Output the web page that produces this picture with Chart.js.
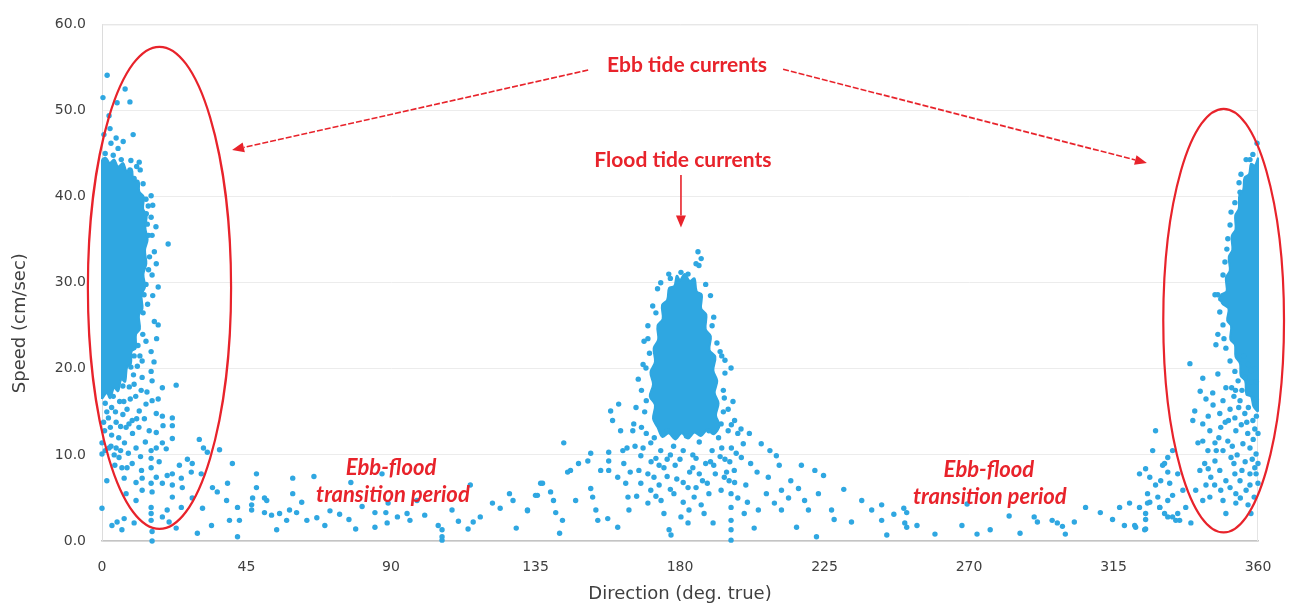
<!DOCTYPE html>
<html>
<head>
<meta charset="utf-8">
<script src="https://cdn.jsdelivr.net/npm/chart.js@4.4.0/dist/chart.umd.min.js"></script>
<style>
html, body { margin: 0; padding: 0; background: #fff; }
</style>
</head>
<body>
<canvas id="myChart" width="1294" height="608"></canvas>
<script>
// [direction deg, speed cm/s]

// outline of the solid blobs (too dense to pick single dots)
const ebbNorthCore = [[0,16.5],[1.5,17.2],[2.5,16.6],[3.8,17.8],[5,17.4],[6,18.8],[7.2,18.5],[7.8,20.2],[9,20.6],[9.2,22],[10.5,22.4],[10.6,24],[11.8,24.6],[11.5,26.2],[12.6,27],[12.3,28.6],[13.4,29.5],[12.9,31],[13.8,32.2],[13.4,33.8],[14.2,35],[13.5,36.4],[13.9,37.8],[12.8,38.6],[13,40],[11.6,40.6],[11.4,41.8],[9.8,42],[9.2,43.2],[7.6,43],[6.6,43.9],[5,43.5],[3.8,44.3],[2.4,43.9],[1.2,44.5],[0,44.2],[0,16.5]];
const floodCore = [[180,30.2],[181.5,31],[183,30.2],[184.5,30.5],[185.2,29],[186.8,28.6],[186.6,27],[188.2,26.3],[188,24.6],[189.6,23.8],[189.2,22.2],[191,21.4],[190.4,19.8],[191.6,18.6],[190.8,17.2],[192,16],[191.2,14.6],[192.3,13.4],[190.5,12.4],[188.5,12.9],[186.5,12.2],[184.5,12.6],[182.5,11.9],[180.5,12.5],[178.5,11.8],[176.5,12.5],[174.5,12.1],[173,13.2],[171.6,14.2],[172.2,15.8],[170.6,16.8],[171.6,18.2],[170.8,19.6],[172.2,20.8],[171.8,22.4],[173.2,23.4],[173,25],[174.6,25.8],[174.4,27.4],[176,28],[176.6,29.4],[178.2,29.6],[179,30.8],[180,30.2]];
const ebbSouthCore = [[360,15],[358.6,15.6],[357.8,16.8],[356.4,17],[356,18.6],[354.6,19.2],[354.4,20.6],[353,21.4],[352.8,22.8],[351.4,23.4],[351.6,25],[350.4,25.6],[350.8,27],[348.8,27.6],[348.5,28.6],[350.2,29],[350,30.6],[351.2,31.4],[350.9,33],[352,33.8],[351.8,35.4],[353,36.2],[352.9,37.8],[354,38.6],[354.2,40.2],[355.4,40.8],[355.8,42.2],[357.2,42.6],[357.8,43.8],[359,43.6],[360,44.4],[360,15]];

const ebbNorthPts = [
	[1.6,54.1],[0.3,51.5],[7.2,52.5],[4.7,50.9],[8.7,51],[2.2,49.4],[2.5,47.9],[0.6,47.2],[9.7,47.2],[4.4,46.8],
	[2.8,46.2],[6.6,46.4],[5,45.6],[9,44.2],[11.6,44],[11.9,43.1],[8.7,43.1],[10,42.1],[15.3,40.1],[13.7,39.7],
	[14.4,38.9],[15.3,37.6],[14.1,36.8],[15.6,35.5],[20.6,34.5],[16.3,33.6],[16.9,32.2],[15.6,30.9],[13.7,29.8],[13.1,28.6],
	[16.3,25.5],[17.5,25.1],[13.7,23.2],[15.3,22],[12.5,20.9],[15.3,19.7],[15.6,18.6],[23.1,18.1],[18.8,17.8],[15.6,16.3],
	[13.7,15.9],[11.6,15.1],[16.9,14.8],[18.8,14.5],[21.9,14.3],[21.9,13.4],[9.4,14],[7.5,13.2],[14.7,12.8],[16.9,12.6],
	[21.9,11.9],[18.8,11.4],[30.3,11.8],[31.6,10.8],[32.8,10.3],[36.6,10.6],[0,11.4],[2.2,10.8],[4.4,10.8],[10.6,10.8],
	[15.3,10.5],[20,10.7],[16.9,10.8],[0,10.1],[5.3,9.7],[15.3,9.6],[26.6,9.5],[28.1,9],[40.6,9],[9.4,9],
	[15.3,8.5],[24.1,8.8],[21.9,7.8],[20.3,7.6],[16.9,7.4],[12.5,7.3],[6.9,7.3],[27.8,8],[24.7,7.3],[30.9,7.8],
	[48.1,7.8],[59.4,7.3],[10.6,6.8],[15.3,6.7],[18.8,6.7],[21.9,6.5],[25,6.2],[12.5,5.9],[15.6,5.7],[34.4,6.2],
	[35.9,5.7],[39.1,6.7],[7.5,5.5],[21.9,5.1],[28.1,5],[10.6,4.7],[48.1,6.2],[46.9,5],[51.3,4.7],[59.4,5.5],
	[0,3.8],[15.3,3.9],[20.3,3.6],[24.7,3.9],[31.3,3.8],[42.2,3.9],[46.6,4.2],[46.6,3.6],[50.6,3.3],[52.8,3],
	[55.3,3.2],[57.5,2.4],[58.4,3.6],[60.6,3.3],[42.8,2.4],[39.7,2.4],[34.1,1.8],[15.3,3.2],[15.3,2.4],[18.8,2.8],
	[20.9,2.2],[23.1,1.5],[15.6,1.1],[15.6,0],[3.1,1.8],[4.7,2.2],[6.9,2.6],[6.2,1.3],[10,2.1],[29.7,0.9],
	[42.2,0.5],[54.4,1.3],[50.6,5],[38.8,4.7],
	[1,16],[3,15.5],[5.5,16.2],[7.8,15.3],[2,14.3],[4.4,13.8],[6.5,14.7],[10.5,16.8],[12.2,17.5],[8.5,17.9],
	[0.8,12.8],[3,12.3],[5.2,12],[7,11.4],[9.5,12.5],[11.5,13.2],[13.2,14.2],[9.8,19.3],[11,20.3],[12.5,19],
	[14,17.3],[1,10.5],[10,21.5],[11.2,22.7],[12.7,24],[9,20.2],[12.8,26.5],[14.2,27.5],[14.5,31.5],[14.8,33],
	[14.5,35.5],[13.8,38],[12.8,41.5],[10.8,43.5],[6,44.3],[3.5,44.8],[1,45],[6.5,18],[3.5,16.8],[0.5,13.8],
	[2.8,11],[5.8,10.5],[8.2,10.2],[12,9.8],[13.5,11.5],[17.8,9.2],[19,13.4],[17.5,16.5],[16.2,20.8],[17,23.5],
	[15.8,28.5],[17.5,29.5],[16.8,36.5],[15.8,39],[7.8,8.5],[4,8.8],[1.5,7],[12.3,8.2],
	[1.5,15],[4.2,15],[6.8,16.2],[8.8,16.5],[10,18.2],[11.8,21.5],[2.6,13.2],[5.8,13.3],[8.4,13.6],[10.8,14.2],
	[3.8,10],[6.2,8.5]
];

const transitionWestPts = [
	[62.2,4.5],[63.8,2.4],[66.9,2.7],[69.4,1.8],[74,3.1],[76.9,2.5],[77.5,6.8],[79,1.4],[85,3.3],[85,1.6],
	[88.4,3.3],[88.8,2.1],[89.1,4.4],[87.2,7.8],[95,3.2],[95.9,2.4],[98.1,4.7],[104.7,1.8],[105.9,1.3],[105.9,0.5],
	[105.9,0.1],[109,3.6],[114,1.4],[114.7,6.5],[115.6,2.2],[117.8,2.8],[121.6,4.4],[124,3.8],[126.9,5.5],[128,4.7],
	[129,1.5],[132.5,3.5],[135.6,5.3],[136.6,6.7],[66,7.5],[71,3.5],[81,4],[92,2.8],[100.5,3],[111,2.3]
];

const floodPts = [
	[132.5,3.6],[135,5.3],[137.2,6.7],[139.7,5.7],[140.6,4.7],[141.3,3.3],[143.4,2.4],[142.5,0.9],[143.8,11.4],[145,8],
	[145.9,8.2],[147.5,4.7],[148.4,9],[151.3,9.3],[152.2,10.2],[152.2,6.1],[152.8,5.1],[153.8,3.6],[154.4,2.4],[157.5,2.6],
	[157.8,10.3],[157.8,9.3],[158.4,15.1],[159,14],[160.9,15.9],[155.3,8.2],[157.8,8.2],[160.6,7.4],[160.6,1.6],[162.2,10.5],
	[162.5,9],[163.1,6.7],[163.8,5.1],[164.1,3.6],[165.3,12.8],[165.6,13.6],[166.3,15.5],[167.2,8.2],[167.8,6.7],[167.8,9.9],
	[168.8,23.2],[169.4,20.1],[170,4.4],[170.9,5.9],[171.9,7.4],[170.9,11.4],[172.5,9.6],[174.1,4.7],[175,3.2],[176.6,1.3],
	[177.2,0.7],[178.1,5.5],[180.3,2.8],[182.5,2.1],[182.8,3.6],[184.4,5.1],[186.6,4.2],[187.5,3.2],[190.3,2.1],[195.9,1.3],
	[195.9,0.1],[195.9,2.4],[195.9,3.9],[195.9,5.5],[195.3,7],[192.8,5.9],[193.8,7.4],[196.9,8.2],[199.1,9.7],[199.7,11.3],
	[201.6,12.5],[205.3,11.3],[207.5,7.4],[206.9,5.5],[204.4,3.6],[200,3.2],[203.1,1.5],[210,9.9],[210.9,8.8],[211.6,5.9],
	[213.8,5],[209.4,4.4],[211.6,3.6],[216.3,1.6],[216.9,6.1],[218.8,4.7],[220,3.6],[222.5,0.5],[223.1,5.5],[195.9,20.1],
	[193.8,16.6],[192.8,13.6],
	[185.6,33.6],[186.6,32.8],[185,32.2],[185.9,32],[180.3,31.2],[182.5,31],[177,30.5],
	[172,12],[174,10.5],[176,12.8],[178,11],[180,9.5],[182,12.2],[184,10],[186,11.5],[188,9],[190,10.5],
	[192,12],[194,9.5],[196,10.8],[198,12.5],[175,8.5],[179,7.2],[183,8],[187,7],[191,7.8],[195,12.8],
	[197,14],[169,15],[168,17.5],[167,18.8],[193.5,17.5],[195,15.3],[196.5,16.2],[194,19.5],[170,25],[171.5,27.3],
	[173,29.3],[189.5,28.5],[190.5,26],[191.5,23],[169.5,12.5],[173.5,6.5],[177,6],[181,6.8],[185,6.2],[189,5.5],
	[181,4.5],[176,9.5],[184,8.5],[189,12.8],[170.5,21.8],[193,21.5],
	[200.5,6.5],[202,9],[204,8],[198,5],[201,4.5],[208,10.5],[214.5,7],[217.8,8.8],[222,8.2],
	[166,11],[168.5,10.8],[171,9.2],[173.5,8.8],[177,10],[181,10.5],[185,9.6],[189.5,9.2],[193,10.8],[195.5,9.2],
	[197.5,10.2],[199,13],[196,13.5],[168,13.2],[170,7.8],[172.5,5.2],[176,7.5],[178.5,8.8],[182.5,6.2],[186,7.8],
	[188.5,6.7],[190.5,8.8],[192.5,9.8],[194.5,8],[197,6.8],[166.5,5.2],[164.5,8],[163.5,10.8],[161.5,12.8],[168.5,20.5],
	[170,23.5],[172.5,26.5],[174,30],[176.5,31],[188,29.8],[190,25],[192.5,22],[194,21],[193.5,15],[169.5,16.3]
];

const transitionEastPts = [
	[224.7,7.6],[231,6],[236.6,4.7],[227.2,3.6],[233.4,2.2],[239.7,3.6],[242.8,2.4],[244.4,0.7],[228,2.5],
	[242.8,4.2],[246.6,3.1],[249.7,3.8],[250.6,3.3],[250,2.1],[250.6,1.6],[253.8,1.8],[259.4,0.8],[267.8,1.8],[269.4,4.3],
	[272.5,0.8],[276.6,1.3],[282.5,2.9],[285.9,0.9],[290.3,2.8],[291.3,2.2],[295.9,2.4],[297.5,2.1],[299.1,1.7],[300,0.8],
	[302.8,2.2],[306.3,3.9],[310.9,3.3],[314.7,2.5],[316.9,3.9],[320,4.4],[323.1,3.9],[325,2.5],[325,1.4],[318.4,1.8],
	[321.9,1.6],[323.1,7.8],[325,8.4],[326.3,7.4],[327.2,10.5],[325.6,5.5],[326.3,4.5],[328.1,6.5],[329.7,7],[330.3,8.8],
	[331.9,9.7],[332.5,6.7],[329.4,3.9],[330.9,3.2],[331.9,4.7],[333.4,2.8],[334.4,2.4]
];

const ebbSouthPts = [
	[328.1,12.8],[333.4,10.5],[330.9,9],[331.9,8],[335,7.8],[336.6,5.9],[333.4,5.3],[328.8,5.1],[325.6,4.4],[325,3.2],
	[329.4,3.9],[331.9,2.8],[335,3.2],[337.5,3.9],[339.1,2.1],[335.6,2.4],[321.6,1.8],[324.7,1.3],[338.8,20.6],[342.8,18.9],
	[342,17.4],[343.8,16.5],[345.9,17.2],[347.5,19.4],[347.5,24],[346.9,22.8],[346.6,28.6],[348.4,28.1],[340.3,15.1],[339.7,14],
	[342.8,13.6],[345,12.8],[342.8,11.6],[341.3,11.4],[344.4,10.5],[346.6,11.4],[348.1,14.8],[348.4,13.2],[349.1,16.3],[350,17.8],
	[351.3,15.3],[352.8,14.3],[353.1,12.8],[354.4,16.3],[355.9,14.8],[357.5,17.1],[358.4,14],[360,12.5],[355.3,11.3],[357.5,10.8],
	[350.6,11.6],[349.1,10.5],[351.6,9.7],[346.6,9.3],[343.4,9],[341.9,8.2],[345.3,7.4],[348.1,8.2],[350,7],[352.8,7.8],
	[354.4,7],[357.5,7.8],[359.4,7.8],[360,6.7],[356.3,5.9],[353.1,5.5],[351.3,6.2],[348.4,5.9],[345,5.1],[342.8,4.7],
	[340.6,5.9],[343.8,6.5],[349.1,4.7],[353.1,4.4],[356.9,4.2],[357.8,3.2],[350,3.2],[358.8,5.1],[360,9],[359.4,10.1],
	[359.7,46.2],[358.4,44.9],[357.5,44.3],[356.3,44.3],[354.7,42.6],[354.1,41.6],[354.4,40.5],[352.8,39.3],[351.6,38.2],[351.3,36.7],
	[350.6,35.1],[350.3,33.9],[349.7,32.4],[349.1,30.9],[347.5,28.6],[348.1,26.6],[349.1,25.1],[349.4,23.5],[350,22.4],[351.3,20.9],
	[352.8,19.7],[353.8,18.6],
	[356,19],[358,18.5],[359.5,16.5],[354.8,13.5],[356.8,12.5],[358.5,11.8],[352,11],[353.5,10],[356,9.2],[358.2,9.5],
	[347.8,12],[349.8,13.8],[351.8,17.8],[357,15.5],[355,17.5],[359.5,14.5],[344.5,14.5],[346,15.8],[352.5,16.8],[359,20],
	[357,20.5],[355.5,21.5],
	[354,15.5],[356.5,13.8],[359,13],[353,17.5],[350.8,14],[352.5,9],[355,8.2],[357.5,6.5],[359,8.5],[354.5,5],
	[346.5,6.5],[344.5,8.4],[347,10.5],[357.8,19.8],[359.5,18.5]
];

const xTicks = [0, 45, 90, 135, 180, 225, 270, 315, 360];
const yTicks = [0, 10, 20, 30, 40, 50, 60];

const dotColor = '#2fa7e1';
const red = '#e8232b';
const textGray = '#404040';

const toXY = pts => pts.map(p => ({x: p[0], y: p[1]}));

const coreSet = pts => ({
	type: 'line',
	data: toXY(pts),
	fill: 'shape',
	backgroundColor: dotColor,
	borderColor: dotColor,
	borderWidth: 2,
	pointRadius: 0,
	tension: 0.35,
	clip: 6,
	order: 2
});

const allPts = [].concat(ebbNorthPts, transitionWestPts, floodPts, transitionEastPts, ebbSouthPts);

// callouts, in data units
const ellipses = [[17.9, 29.4, 22.3, 28], [349.3, 25.6, 18.8, 24.6]];

function arrow(ctx, x1, y1, x2, y2, dashed) {
	const ang = Math.atan2(y2 - y1, x2 - x1);
	const len = 12, hw = 5;
	const bx = x2 - len * Math.cos(ang), by = y2 - len * Math.sin(ang);
	ctx.setLineDash(dashed ? [6, 2] : []);
	ctx.beginPath();
	ctx.moveTo(x1, y1);
	ctx.lineTo(bx, by);
	ctx.stroke();
	ctx.setLineDash([]);
	ctx.beginPath();
	ctx.moveTo(x2, y2);
	ctx.lineTo(bx - hw * Math.sin(ang), by + hw * Math.cos(ang));
	ctx.lineTo(bx + hw * Math.sin(ang), by - hw * Math.cos(ang));
	ctx.closePath();
	ctx.fill();
}

const tideNotes = {
	id: 'tideNotes',
	beforeDatasetsDraw(chart) {
		const {ctx, chartArea: a} = chart;
		ctx.save();
		ctx.strokeStyle = '#e4e4e4';
		ctx.lineWidth = 1;
		ctx.beginPath();
		ctx.moveTo(a.left, a.top + 0.5);
		ctx.lineTo(a.right - 0.5, a.top + 0.5);
		ctx.lineTo(a.right - 0.5, a.bottom);
		ctx.stroke();
		ctx.restore();
	},
	afterDraw(chart) {
		const {ctx, scales: {x, y}} = chart;
		const px = v => x.getPixelForValue(v);
		const py = v => y.getPixelForValue(v);
		ctx.save();

		// y axis title sits a little below the middle, as in the original
		ctx.fillStyle = textGray;
		ctx.font = '18px "DejaVu Sans"';
		ctx.textAlign = 'center';
		ctx.textBaseline = 'middle';
		ctx.translate(20, py(25.3));
		ctx.rotate(-Math.PI / 2);
		ctx.fillText('Speed (cm/sec)', 0, 0);
		ctx.setTransform(1, 0, 0, 1, 0, 0);

		ctx.strokeStyle = red;
		ctx.fillStyle = red;
		ctx.lineWidth = 2.2;
		ellipses.forEach(([cx, cy, rx, ry]) => {
			ctx.beginPath();
			ctx.ellipse(px(cx), py(cy), px(cx + rx) - px(cx), py(cy) - py(cy + ry), 0, 0, Math.PI * 2);
			ctx.stroke();
		});

		ctx.lineWidth = 1.6;
		arrow(ctx, px(151.4), py(54.7), px(40.5), py(45.4), true);
		arrow(ctx, px(212.1), py(54.8), px(325.4), py(43.9), true);
		arrow(ctx, px(180.3), py(42.5), px(180.3), py(36.4), false);

		ctx.font = 'bold 21px Lato';
		ctx.fillText('Ebb tide currents', px(182.2), py(55.2));
		ctx.fillText('Flood tide currents', px(180.9), py(44.2));
		ctx.font = 'italic bold 22px Lato';
		ctx.fillText('Ebb-flood', px(90), py(8.5));
		ctx.fillText('transition period', px(90.6), py(5.3));
		ctx.fillText('Ebb-flood', px(276.2), py(8.3));
		ctx.fillText('transition period', px(276.5), py(5.1));
		ctx.restore();
	}
};

const config = {
	type: 'scatter',
	data: {
		datasets: [
			{
				label: 'Speed',
				data: toXY(allPts),
				backgroundColor: dotColor,
				borderWidth: 0,
				pointRadius: 2.7,
				pointHoverRadius: 2.7,
				clip: 6,
				order: 1
			},
			coreSet(ebbNorthCore),
			coreSet(floodCore),
			coreSet(ebbSouthCore)
		]
	},
	options: {
		responsive: false,
		animation: false,
		layout: {padding: {top: 20, right: 36, left: 0, bottom: 0}},
		plugins: {legend: {display: false}, tooltip: {enabled: false}},
		scales: {
			x: {
				type: 'linear',
				min: 0,
				max: 360,
				afterFit: s => { s.height = 67; },
				afterBuildTicks: s => { s.ticks = xTicks.map(v => ({value: v})); },
				ticks: {padding: 18, color: textGray, font: {family: 'DejaVu Sans', size: 14}},
				grid: {display: false, drawTicks: false},
				border: {color: '#c4c4c4', width: 1.5},
				title: {display: true, text: 'Direction (deg. true)', color: textGray, font: {family: 'DejaVu Sans', size: 18}, padding: {bottom: 3}}
			},
			y: {
				min: 0,
				max: 60,
				afterFit: s => { s.width = 102; },
				afterBuildTicks: s => { s.ticks = yTicks.map(v => ({value: v})); },
				ticks: {padding: 16, color: textGray, font: {family: 'DejaVu Sans', size: 14}, callback: v => v.toFixed(1)},
				grid: {color: '#ececec', drawTicks: false},
				border: {color: '#dcdcdc'},
				title: {display: false}
			}
		}
	},
	plugins: [tideNotes]
};

const chartt = new Chart(document.getElementById('myChart'), config);
</script>
</body>
</html>
